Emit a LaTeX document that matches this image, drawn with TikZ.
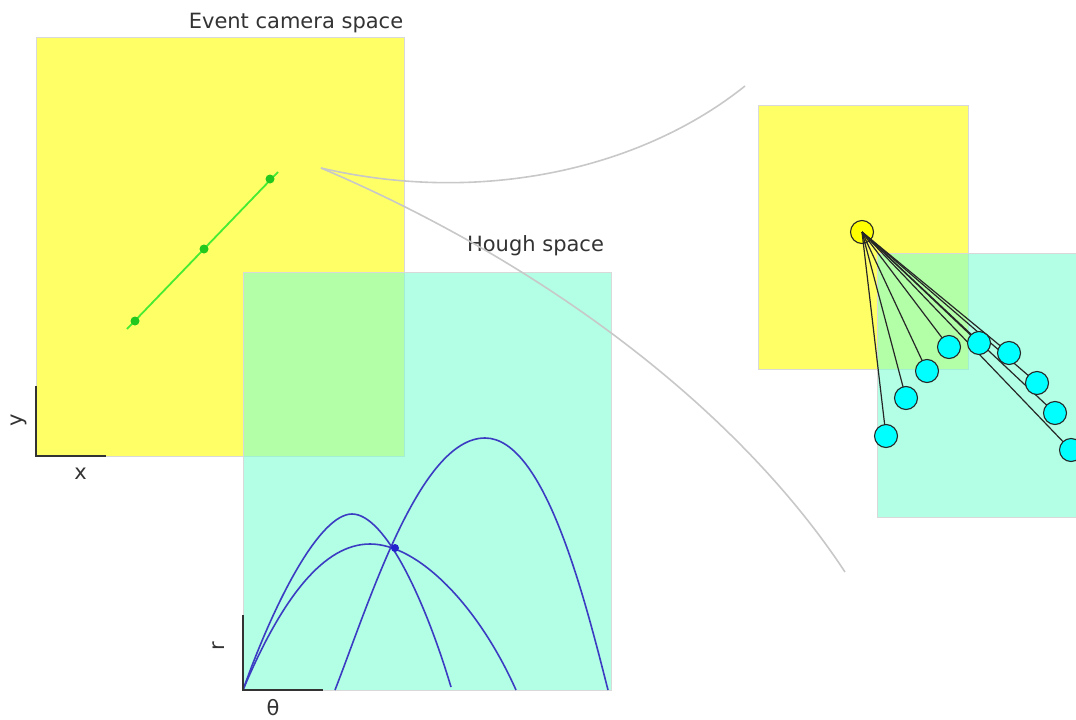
\documentclass[tikz,border=0pt]{standalone}
\usepackage{fontspec}
\setmainfont{DejaVu Sans}
\usepackage{tikz}
\definecolor{aqua}{RGB}{127,255,212}
\definecolor{pyellow}{RGB}{255,255,0}
\definecolor{pcyan}{RGB}{0,255,255}
\definecolor{hblue}{RGB}{60,60,195}
\definecolor{hdotblue}{RGB}{35,35,205}
\definecolor{evgreen}{RGB}{70,235,50}
\definecolor{dotgreen}{RGB}{35,200,30}
\definecolor{lnkgray}{RGB}{200,200,200}

\begin{document}
\begin{tikzpicture}[x=1pt,y=-1pt,
  panel/.style={draw=black!15,line width=0.6pt,fill opacity=0.6,inner sep=0pt,anchor=north west},
  evpanel/.style={panel,fill=pyellow},
  hpanel/.style={panel,fill=aqua},
  title/.style={font=\fontsize{21}{25}\selectfont,text=black!80,inner sep=0pt},
  axis/.style={draw=black!80,line width=1.3pt},
  evline/.style={draw=evgreen,line width=1.8pt},
  evpt/.style={circle,fill=dotgreen,inner sep=0pt,minimum size=9pt},
  hcurve/.style={draw=hblue,line width=1.6pt},
  hdot/.style={circle,fill=hdotblue,inner sep=0pt,minimum size=8pt},
  link/.style={draw=lnkgray,line width=1.6pt},
  ray/.style={draw=black!85,line width=1.2pt},
  src/.style={circle,draw=black!85,fill=pyellow,line width=1.1pt,minimum size=23pt,inner sep=0pt},
  pix/.style={circle,draw=black!85,fill=pcyan,line width=1.1pt,minimum size=23pt,inner sep=0pt}]
\useasboundingbox (0,0) rectangle (1076,720);
\clip (0,0) rectangle (1076,720);

% event camera space
\node[evpanel,minimum width=368pt,minimum height=419pt] (ev) at (36,37) {};
\coordinate (ls) at (127,329);
\coordinate (le) at (278,172);
\draw[evline] (ls) -- (le);
\foreach \n/\x/\y in {e1/135/321,e2/204/249,e3/270/179}
  \node[evpt] (\n) at (\x,\y) {};
\coordinate (eo) at (36,456);
\coordinate (ey) at (36,386);
\coordinate (ex) at (106,456);
\draw[axis] (ey) -- (eo) -- (ex);
\node[title] (xl) at (80.5,474) {x};
\node[title,rotate=90] (yl) at (19,420) {y};
\node[title,anchor=base] (evtitle) at (296,28) {Event camera space};

% hough space
\node[hpanel,minimum width=368pt,minimum height=418pt] (hs) at (243,272) {};
\coordinate (ho) at (243,690);
\draw[hcurve] (ho) .. controls (275,600) and (320,514) .. (352,514)
  .. controls (385,514) and (425,600) .. (451,687);
\draw[hcurve] (ho) .. controls (283,595) and (325,544) .. (370,544)
  .. controls (418,544) and (478,605) .. (516,690);
\draw[hcurve] (335,690) .. controls (370,600) and (420,438) .. (485,438)
  .. controls (545,438) and (585,600) .. (608,690);
\node[hdot] (hx) at (395,548) {};
\coordinate (hr) at (243,615);
\coordinate (ht) at (323,690);
\draw[axis] (hr) -- (ho) -- (ht);
\node[title,rotate=90] (rl) at (219,646) {r};
\node[title,anchor=base] (tl) at (273,715) {θ};
\node[title,anchor=base] (htitle) at (535.5,251) {Hough space};

% zoomed view
\node[evpanel,minimum width=210pt,minimum height=264pt] (zev) at (758,105) {};
\node[hpanel,minimum width=220pt,minimum height=264pt] (zh) at (877,253) {};
\node[src] (src) at (862,232) {};
\foreach \i/\x/\y in {1/886/436,2/906/398,3/927/371,4/949/347,5/979/343,
    6/1009/353,7/1037/383,8/1055/413,9/1071/450}
  \coordinate (p\i) at (\x,\y);
\foreach \i in {1,...,9}
  \draw[ray] (src.center) -- (p\i);
\foreach \i in {1,...,9}
  \node[pix] (c\i) at (p\i) {};

% zoom links
\coordinate (zs) at (321,168);
\coordinate (zt) at (745,86);
\coordinate (zb) at (845,572);
\draw[link] (zs) .. controls (480,205) and (640,170) .. (zt);
\draw[link] (zs) .. controls (560,270) and (745,420) .. (zb);
\end{tikzpicture}
\end{document}
